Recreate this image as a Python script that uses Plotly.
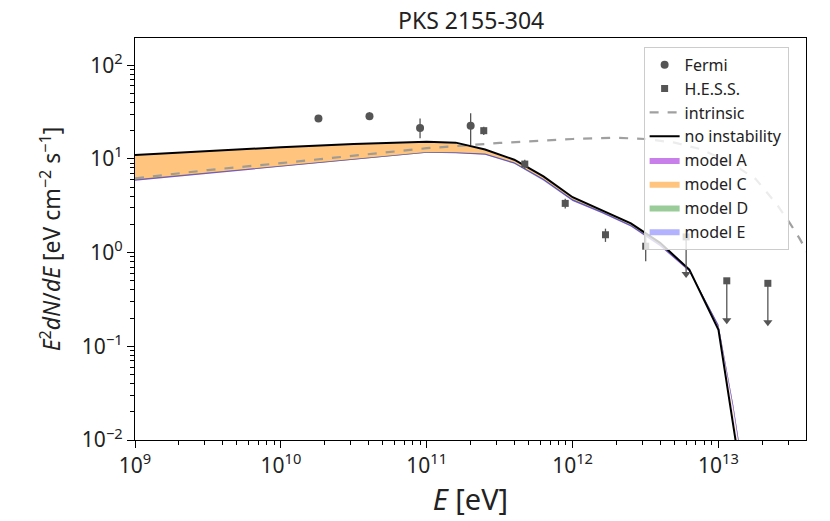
import plotly.graph_objects as go

# ---- data ----
energy = [1e9, 3.16e9, 1e10, 3.16e10, 1e11, 1.58e11, 2.51e11, 3.98e11, 6.31e11,
          1e12, 1.58e12, 2.51e12, 3.98e12, 6.31e12, 1e13, 1.26e13, 1.58e13]

no_instability = [11.0, 12.2, 13.3, 14.4, 15.2, 14.9, 12.6, 9.8, 6.5,
                  3.9, 2.85, 2.05, 1.27, 0.66, 0.15, 0.017, 0.0015]

model_a_lo = [5.85, 6.95, 8.35, 9.9, 11.6, 11.5, 11.1, 8.9, 5.9,
              3.55, 2.65, 1.9, 1.17, 0.63, 0.16, 0.022, 0.0022]
model_a_hi = [6.05, 7.15, 8.55, 10.15, 11.85, 11.75, 11.4, 9.2, 6.15,
              3.7, 2.75, 1.97, 1.23, 0.66, 0.17, 0.024, 0.0025]
model_c_lo = [6.0, 7.1, 8.5, 10.1, 11.8, 11.7, 11.4, 9.2, 6.1,
              3.7, 2.75, 1.98, 1.22, 0.65, 0.155, 0.019, 0.0018]
model_c_hi = [11.0, 12.2, 13.3, 14.4, 15.1, 14.6, 12.4, 9.6, 6.4,
              3.85, 2.85, 2.05, 1.27, 0.67, 0.16, 0.02, 0.0019]
model_d_lo = [5.9, 7.0, 8.4, 9.95, 11.65, 11.55, 11.15, 8.95, 5.95,
              3.6, 2.68, 1.92, 1.19, 0.64, 0.165, 0.023, 0.0023]
model_d_hi = [6.05, 7.15, 8.55, 10.15, 11.85, 11.75, 11.4, 9.2, 6.15,
              3.72, 2.76, 1.98, 1.24, 0.66, 0.17, 0.024, 0.0025]
model_e_lo = [5.85, 6.95, 8.35, 9.9, 11.6, 11.5, 11.1, 8.85, 5.85,
              3.55, 2.65, 1.9, 1.17, 0.63, 0.16, 0.022, 0.0022]
model_e_hi = [6.0, 7.1, 8.5, 10.1, 11.8, 11.7, 11.35, 9.15, 6.1,
              3.68, 2.74, 1.96, 1.22, 0.65, 0.17, 0.024, 0.0025]

intrinsic_e = [1e9, 3.16e9, 1e10, 3.16e10, 1e11, 3.16e11, 1e12, 2e12, 3.16e12,
               5e12, 7.4e12, 1.2e13, 1.8e13, 2.5e13, 3.1e13, 3.6e13, 4e13, 5e13]
intrinsic = [6.2, 7.6, 9.0, 10.9, 13.0, 14.8, 16.3, 16.8, 16.3,
             14.9, 12.8, 9.2, 6.1, 3.3, 2.04, 1.41, 1.05, 0.5]

fermi_e = [1.81e10, 4.05e10, 9.0e10, 2.0e11]
fermi_f = [27.0, 28.5, 21.4, 22.6]
fermi_up = [1.5, 3.0, 5.6, 8.0]
fermi_dn = [1.5, 2.5, 4.8, 8.5]

hess_e = [2.46e11, 4.7e11, 8.9e11, 1.68e12, 3.17e12]
hess_f = [20.0, 8.8, 3.35, 1.55, 1.17]
hess_up = [2.0, 1.0, 0.4, 0.25, 0.4]
hess_dn = [2.0, 1.0, 0.4, 0.25, 0.36]

hess_ul_e = [6.0e12, 1.14e13, 2.18e13]
hess_ul_f = [1.47, 0.50, 0.47]
hess_ul_end = [0.59, 0.19, 0.18]

x_major = [1e9, 1e10, 1e11, 1e12, 1e13]
x_text = ['10<sup>9</sup>', '10<sup>10</sup>', '10<sup>11</sup>', '10<sup>12</sup>', '10<sup>13</sup>']
y_major = [1e-2, 1e-1, 1e0, 1e1, 1e2]
y_text = ['10<sup>−2</sup>', '10<sup>−1</sup>', '10<sup>0</sup>', '10<sup>1</sup>', '10<sup>2</sup>']

data_color = '#555555'
font_family = 'Noto Sans'
x_range = [9, 13.6]
y_range = [-2, 2.29]

fig = go.Figure()

# model bands: lower edge then upper edge filled to it
bands = [
    ('model A', model_a_lo, model_a_hi, 'rgba(148,0,211,0.5)', 5),
    ('model C', model_c_lo, model_c_hi, 'rgba(255,140,0,0.5)', 6),
    ('model D', model_d_lo, model_d_hi, 'rgba(0,128,0,0.4)', 7),
    ('model E', model_e_lo, model_e_hi, 'rgba(0,0,255,0.3)', 8),
]
for name, lo, hi, col, rank in bands:
    fig.add_trace(go.Scatter(x=energy, y=lo, mode='lines', line=dict(width=0),
                             showlegend=False, hoverinfo='skip'))
    fig.add_trace(go.Scatter(x=energy, y=hi, mode='lines', line=dict(width=0),
                             fill='tonexty', fillcolor=col, name=name,
                             legendrank=rank))

fig.add_trace(go.Scatter(x=intrinsic_e, y=intrinsic, mode='lines', name='intrinsic',
                         line=dict(color='rgba(150,150,150,0.9)', width=2.2, dash='dash'),
                         legendrank=3))
fig.add_trace(go.Scatter(x=energy, y=no_instability, mode='lines', name='no instability',
                         line=dict(color='black', width=2), legendrank=4))

fig.add_trace(go.Scatter(x=fermi_e, y=fermi_f, mode='markers', name='Fermi',
                         marker=dict(symbol='circle', size=8, color=data_color),
                         error_y=dict(type='data', symmetric=False, array=fermi_up,
                                      arrayminus=fermi_dn, color=data_color,
                                      thickness=1.3, width=0),
                         legendrank=1))
fig.add_trace(go.Scatter(x=hess_e, y=hess_f, mode='markers', name='H.E.S.S.',
                         marker=dict(symbol='square', size=7, color=data_color),
                         error_y=dict(type='data', symmetric=False, array=hess_up,
                                      arrayminus=hess_dn, color=data_color,
                                      thickness=1.3, width=0),
                         legendrank=2))

# upper limits: square, stem and arrow head
for e, f, end in zip(hess_ul_e, hess_ul_f, hess_ul_end):
    fig.add_trace(go.Scatter(x=[e, e], y=[f, end], mode='lines',
                             line=dict(color=data_color, width=1.3),
                             showlegend=False, hoverinfo='skip'))
fig.add_trace(go.Scatter(x=hess_ul_e, y=hess_ul_end, mode='markers',
                         marker=dict(symbol='triangle-down', size=8, color=data_color),
                         showlegend=False, hoverinfo='skip'))
fig.add_trace(go.Scatter(x=hess_ul_e, y=hess_ul_f, mode='markers',
                         marker=dict(symbol='square', size=7, color=data_color),
                         showlegend=False, hoverinfo='skip'))

# invisible trace so the minor-tick overlay axes get drawn
fig.add_trace(go.Scatter(x=[1e9], y=[1], xaxis='x2', yaxis='y2', mode='markers',
                         marker=dict(opacity=0), showlegend=False, hoverinfo='skip'))

x_minor = [m * 10 ** d for d in range(9, 14) for m in range(2, 10)]
y_minor = [m * 10 ** d for d in range(-2, 3) for m in range(2, 10)]

fig.update_layout(
    xaxis=dict(type='log', range=x_range, tickvals=x_major, ticktext=x_text,
               ticks='outside', ticklen=7, tickwidth=1.2, tickcolor='black',
               showline=True, linecolor='black', linewidth=1.2, mirror=True,
               showgrid=False, zeroline=False,
               tickfont=dict(size=21, color='#222'),
               title=dict(text='<i>E</i> [eV]', font=dict(size=29, color='#222'), standoff=2)),
    yaxis=dict(type='log', range=y_range, tickvals=y_major, ticktext=y_text,
               ticks='outside', ticklen=7, tickwidth=1.2, tickcolor='black',
               showline=True, linecolor='black', linewidth=1.2, mirror=True,
               showgrid=False, zeroline=False,
               tickfont=dict(size=21, color='#222'),
               title=dict(text='<i>E</i><sup>2</sup><i>dN</i>/<i>dE</i> [eV cm<sup>−2</sup> s<sup>−1</sup>]',
                          font=dict(size=23, color='#222'), standoff=14)),
    xaxis2=dict(type='log', range=x_range, overlaying='x', anchor='y', side='bottom',
                tickvals=x_minor, showticklabels=False, ticks='outside', ticklen=4,
                tickwidth=1, tickcolor='black', showgrid=False, zeroline=False, showline=False),
    yaxis2=dict(type='log', range=y_range, overlaying='y', anchor='x', side='left',
                tickvals=y_minor, showticklabels=False, ticks='outside', ticklen=4,
                tickwidth=1, tickcolor='black', showgrid=False, zeroline=False, showline=False),
    width=830, height=521,
    margin=dict(l=127, r=32, t=30, b=89),
    paper_bgcolor='white', plot_bgcolor='white',
    font=dict(family=font_family, color='#222'),
    title=dict(text='PKS 2155-304', x=0.558, xanchor='center', y=0.99, yanchor='top',
               pad=dict(t=0, b=0), font=dict(size=23, color='#222')),
    legend=dict(x=0.758, y=0.978, xanchor='left', yanchor='top', traceorder='normal',
                bgcolor='rgba(255,255,255,0.8)', bordercolor='#cccccc', borderwidth=1,
                font=dict(size=16), tracegroupgap=0),
    showlegend=True,
)

fig.write_html("out.html")
